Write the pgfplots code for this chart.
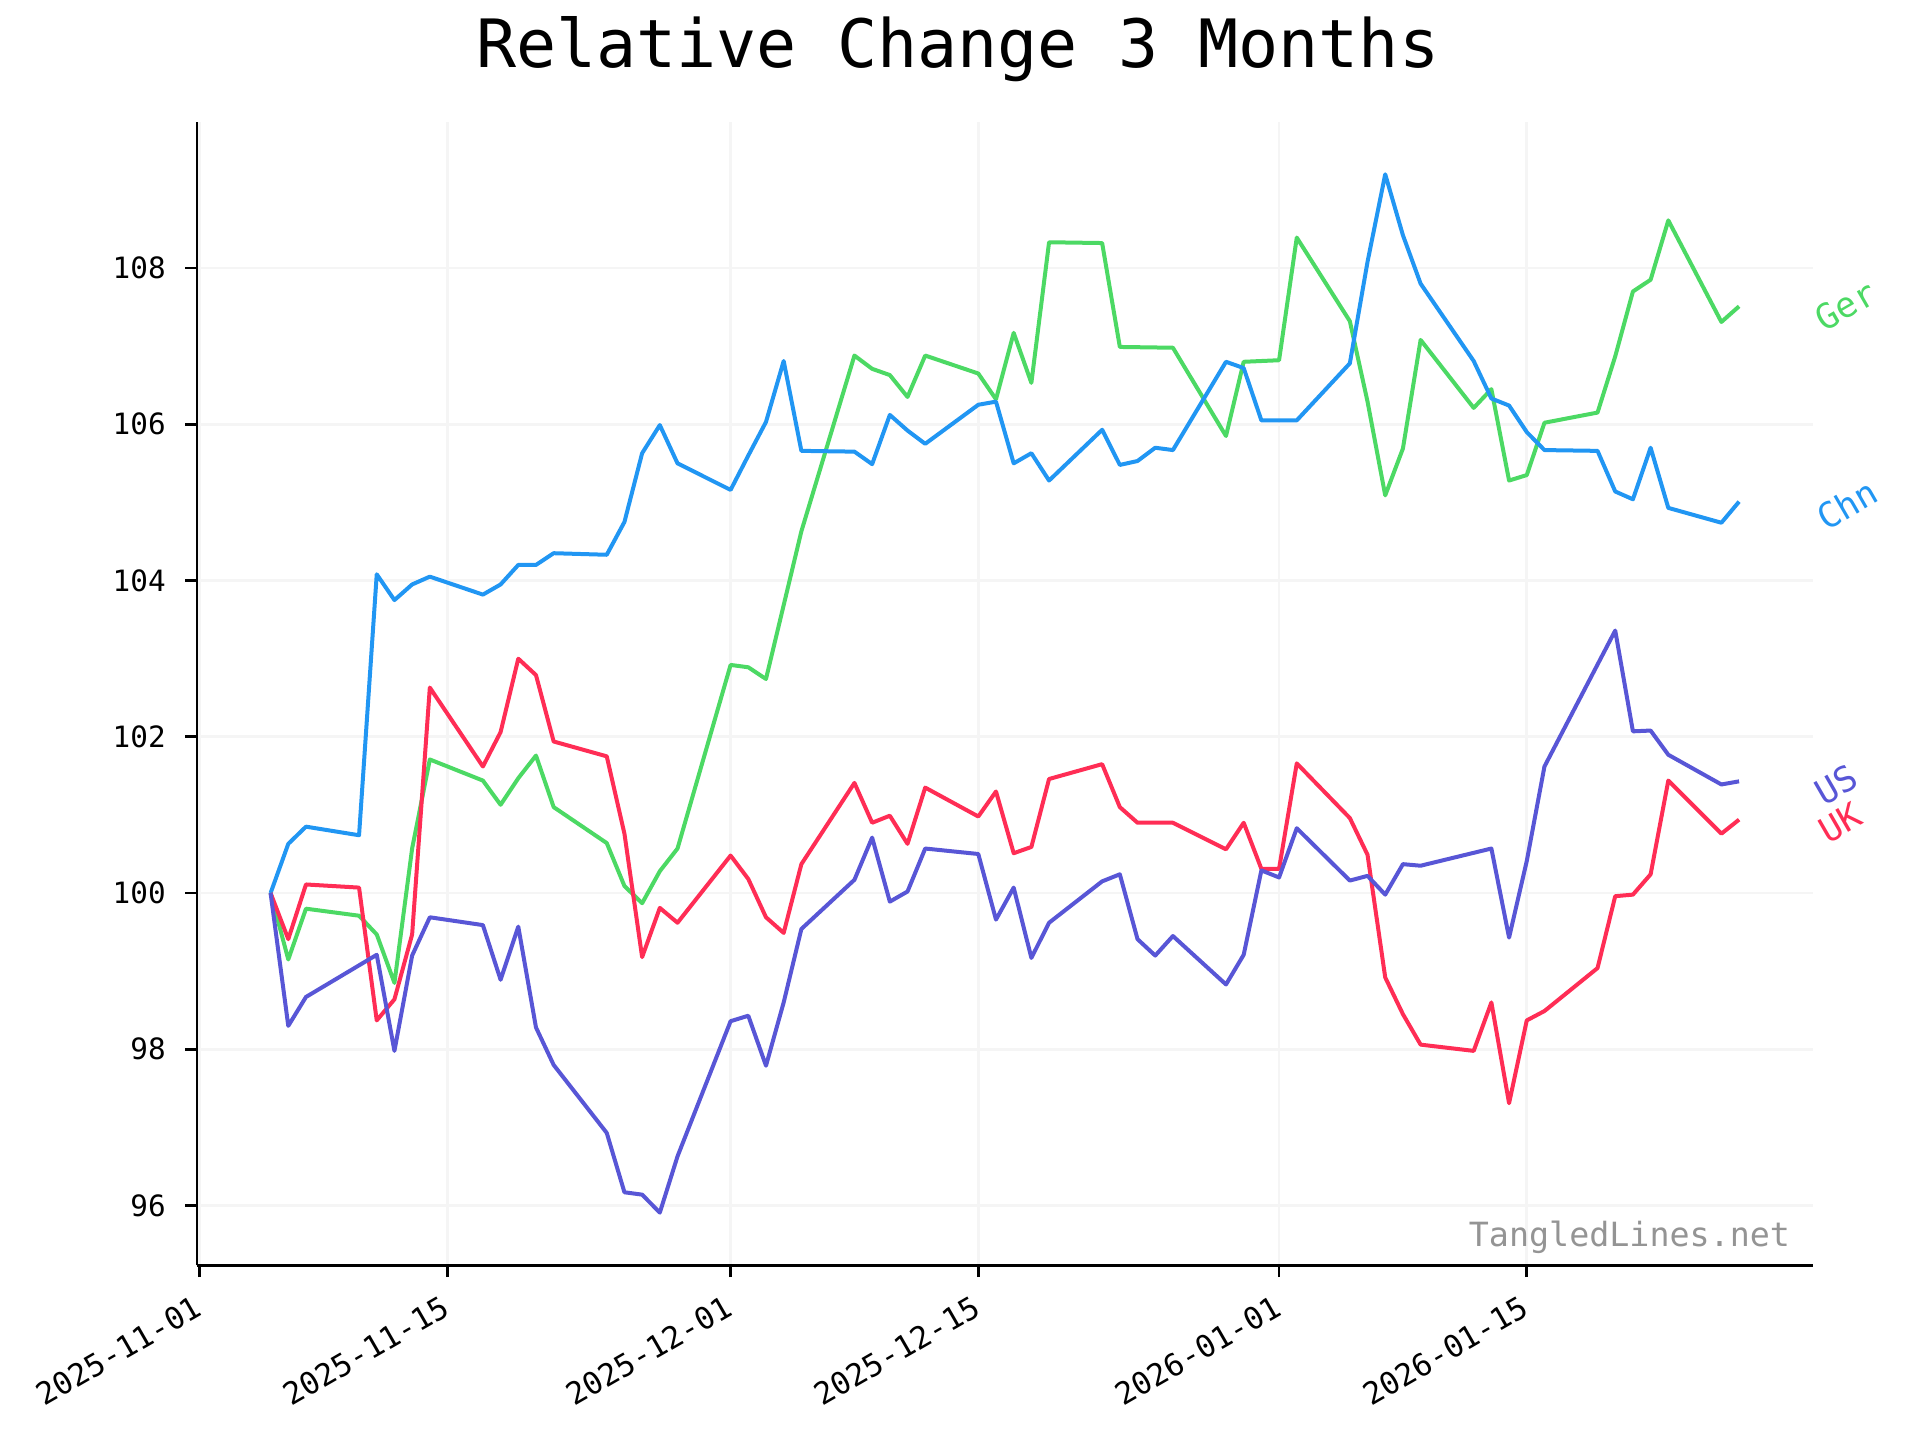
\documentclass[border=0pt]{standalone}
\usepackage{fontspec}
\setmainfont{DejaVu Sans Mono}
\usepackage{pgfplots}
\pgfplotsset{compat=1.18}
\usepackage{pgfplotstable}
\definecolor{cger}{HTML}{4CD964}
\definecolor{cchn}{HTML}{2196F3}
\definecolor{cuk}{HTML}{FF2D55}
\definecolor{cus}{HTML}{5856D6}

\pgfplotstableread{
d v
4 100
5 98.3
6 98.67
10 99.21
11 97.98
12 99.2
13 99.69
16 99.59
17 98.89
18 99.57
19 98.28
20 97.8
23 96.93
24 96.17
25 96.14
26 95.91
27 96.63
30 98.36
31 98.43
32 97.79
33 98.6
34 99.54
37 100.17
38 100.71
39 99.89
40 100.02
41 100.57
44 100.5
45 99.66
46 100.07
47 99.17
48 99.62
51 100.15
52 100.24
53 99.41
54 99.2
55 99.45
58 98.83
59 99.21
60 100.29
61 100.2
62 100.83
65 100.16
66 100.22
67 99.98
68 100.37
69 100.35
73 100.57
74 99.43
75 100.41
76 101.62
80 103.36
81 102.07
82 102.08
83 101.77
86 101.39
87 101.43
}\tus

\pgfplotstableread{
d v
4 100
5 99.41
6 100.11
9 100.07
10 98.37
11 98.64
12 99.47
13 102.63
16 101.62
17 102.06
18 103.0
19 102.79
20 101.94
23 101.75
24 100.76
25 99.18
26 99.81
27 99.62
30 100.48
31 100.18
32 99.69
33 99.49
34 100.37
37 101.41
38 100.9
39 100.99
40 100.63
41 101.35
44 100.98
45 101.3
46 100.51
47 100.59
48 101.46
51 101.65
52 101.1
53 100.9
55 100.9
58 100.56
59 100.9
60 100.31
61 100.31
62 101.66
65 100.96
66 100.49
67 98.92
68 98.45
69 98.06
72 97.98
73 98.6
74 97.31
75 98.37
76 98.49
79 99.04
80 99.96
81 99.98
82 100.24
83 101.44
86 100.76
87 100.94
}\tuk

\pgfplotstableread{
d v
4 100
5 99.15
6 99.8
9 99.71
10 99.47
11 98.85
12 100.57
13 101.71
16 101.44
17 101.13
18 101.47
19 101.76
20 101.1
23 100.64
24 100.09
25 99.87
26 100.28
27 100.57
30 102.92
31 102.89
32 102.74
34 104.63
37 106.88
38 106.71
39 106.63
40 106.35
41 106.88
44 106.65
45 106.32
46 107.17
47 106.53
48 108.33
51 108.32
52 106.99
55 106.98
58 105.85
59 106.8
61 106.82
62 108.39
65 107.32
66 106.29
67 105.09
68 105.69
69 107.08
72 106.21
73 106.45
74 105.28
75 105.35
76 106.02
79 106.15
80 106.87
81 107.7
82 107.85
83 108.61
86 107.31
87 107.51
}\tger

\pgfplotstableread{
d v
4 100
5 100.63
6 100.85
9 100.74
10 104.08
11 103.75
12 103.95
13 104.05
16 103.82
17 103.95
18 104.2
19 104.2
20 104.35
23 104.33
24 104.75
25 105.63
26 105.99
27 105.5
30 105.16
31 105.6
32 106.03
33 106.81
34 105.66
37 105.65
38 105.49
39 106.12
40 105.92
41 105.75
44 106.25
45 106.29
46 105.5
47 105.63
48 105.28
51 105.93
52 105.48
53 105.53
54 105.7
55 105.67
58 106.8
59 106.72
60 106.05
62 106.05
65 106.78
66 108.08
67 109.2
68 108.42
69 107.8
72 106.81
73 106.33
74 106.24
75 105.9
76 105.67
79 105.66
80 105.14
81 105.04
82 105.7
83 104.93
86 104.74
87 105.01
}\tchn

\begin{document}
\begin{tikzpicture}
\useasboundingbox (0,0) rectangle (576pt,432pt);
\node[anchor=base, font=\fontsize{20}{24}\selectfont] at (287.3pt,411.8pt) {Relative Change 3 Months};
\begin{axis}[
  at={(59.15pt,52.4pt)}, anchor=south west,
  width=484.6pt, height=342.9pt, scale only axis,
  xmin=-0.15, xmax=91.15, ymin=95.235, ymax=109.865,
  axis lines=left,
  axis line style={-, line width=0.8pt, black},
  tick align=outside,
  major tick length=3.5pt,
  tick style={line width=0.8pt, black},
  xtick={0,14,30,44,61,75},
  xticklabels={2025-11-01,2025-11-15,2025-12-01,2025-12-15,2026-01-01,2026-01-15},
  ytick={96,98,100,102,104,106,108},
  grid=major,
  grid style={color=black!4, line width=0.8pt},
  /pgf/number format/assume math mode=true,
  yticklabel style={font=\fontsize{8.8}{10.5}\selectfont, xshift=-2.4pt},
  xticklabel style={font=\fontsize{9.2}{11}\selectfont, rotate=30, anchor=north east, xshift=-1pt},
  clip=false,
  every axis plot/.append style={line width=1.2pt, line join=round},
]
\addplot[cger, no markers] table[x=d, y=v] {\tger};
\addplot[cchn, no markers] table[x=d, y=v] {\tchn};
\addplot[cuk, no markers] table[x=d, y=v] {\tuk};
\addplot[cus, no markers] table[x=d, y=v] {\tus};
\node[rotate=30, text=cger, font=\fontsize{10.5}{12}\selectfont] at (axis cs:93.02,107.52) {Ger};
\node[rotate=30, text=cchn, font=\fontsize{10.5}{12}\selectfont] at (axis cs:93.1,104.97) {Chn};
\node[rotate=30, text=cus, font=\fontsize{10.5}{12}\selectfont] at (axis cs:92.5,101.39) {US};
\node[rotate=30, text=cuk, font=\fontsize{10.5}{12}\selectfont] at (axis cs:92.74,100.9) {UK};
\end{axis}
\node[anchor=base east, inner sep=0pt, text=black!42, font=\fontsize{10}{12}\selectfont] at (537.2pt,58pt) {TangledLines.net};
\end{tikzpicture}
\end{document}
